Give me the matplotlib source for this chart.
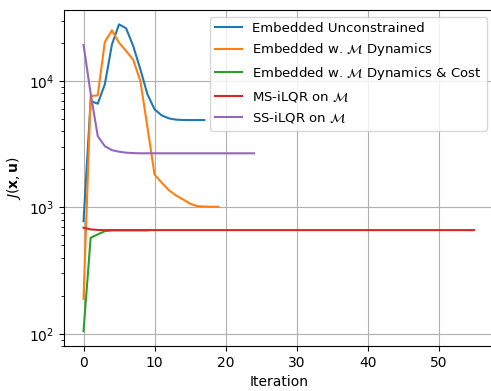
import matplotlib
matplotlib.use("Agg")
import matplotlib.pyplot as plt
import numpy as np

# cost per iteration
unconstrained = [778, 6950, 6620, 9420, 19500, 28100, 26100, 18900, 12400, 7850,
                 5970, 5350, 5070, 4950, 4920, 4910, 4910, 4910]
m_dynamics = [189, 7610, 7700, 20400, 25200, 20100, 17300, 14700, 10000, 4300,
              1820, 1570, 1370, 1245, 1157, 1070, 1023, 1015, 1012, 1012]
m_dyn_cost = [105, 575, 611, 649, 658, 658, 658, 658, 658, 658]
ms_ilqr = [690, 670, 663] + [661] * 53
ss_ilqr = [19300, 8000, 3670, 3050, 2840, 2760, 2710, 2690] + [2680] * 17

series = [
    (unconstrained, 'Embedded Unconstrained'),
    (m_dynamics, r'Embedded w. $\mathcal{M}$ Dynamics'),
    (m_dyn_cost, r'Embedded w. $\mathcal{M}$ Dynamics & Cost'),
    (ms_ilqr, r'MS-iLQR on $\mathcal{M}$'),
    (ss_ilqr, r'SS-iLQR on $\mathcal{M}$'),
]

fig = plt.figure(figsize=(4.91, 3.91), dpi=100)
# axes runs a little past the right edge, as in the reference
ax = fig.add_axes([64 / 491, 45 / 391, 429.7 / 491, 336 / 391])

for vals, label in series:
    ax.plot(np.arange(len(vals)), vals, label=label)

ax.set_yscale('log')
ax.set_xlim(-2.75, 57.75)
ax.set_ylim(80, 36500)
ax.grid(True)
ax.spines['right'].set_visible(False)
ax.set_xlabel('Iteration')
ax.set_ylabel(r'$J(\mathbf{x}, \mathbf{u})$')
ax.legend(loc='upper right', fontsize=9.5)

plt.savefig('out.png', dpi=100)
